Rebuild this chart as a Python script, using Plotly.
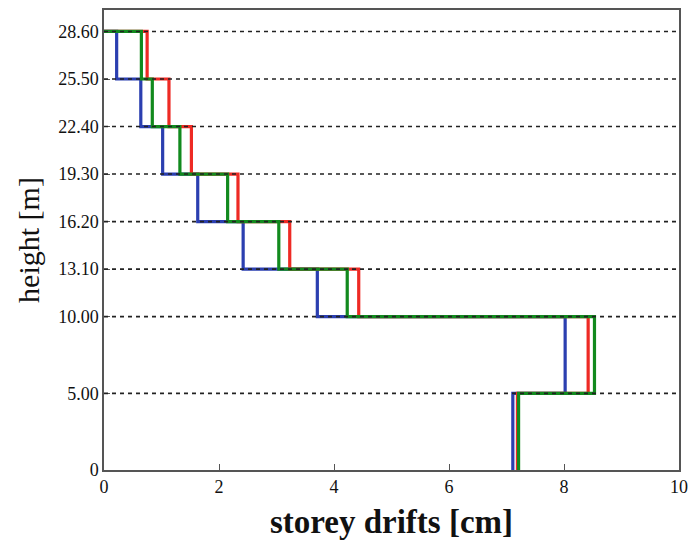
import plotly.graph_objects as go

# storey boundary heights (top to bottom) and tick labels
levels = [28.6, 25.5, 22.4, 19.3, 16.2, 13.1, 10.0, 5.0, 0.0]
ytick_vals = [0, 5.0, 10.0, 13.1, 16.2, 19.3, 22.4, 25.5, 28.6]
ytick_text = ["0", "5.00", "10.00", "13.10", "16.20", "19.30", "22.40", "25.50", "28.60"]
xtick_vals = [0, 2, 4, 6, 8, 10]

# storey drifts [cm], top storey first
drift_blue = [0.22, 0.64, 1.02, 1.63, 2.42, 3.71, 8.02, 7.11]
drift_red = [0.75, 1.13, 1.52, 2.33, 3.23, 4.43, 8.42, 7.19]
drift_green = [0.65, 0.84, 1.32, 2.15, 3.04, 4.23, 8.53, 7.21]


def step_path(drifts):
    xs, ys = [0.0], [levels[0]]
    for i, d in enumerate(drifts):
        xs += [d, d]
        ys += [levels[i], levels[i + 1]]
    return xs, ys


fig = go.Figure()
for drifts, color in [(drift_blue, "#2b3fb0"), (drift_red, "#ee2a24"), (drift_green, "#128a1e")]:
    xs, ys = step_path(drifts)
    fig.add_trace(go.Scatter(x=xs, y=ys, mode="lines",
                             line=dict(color=color, width=3.2),
                             showlegend=False, hoverinfo="skip"))

# dotted grid lines drawn above the traces
for yv in ytick_vals[1:]:
    fig.add_shape(type="line", x0=0, x1=10, y0=yv, y1=yv, xref="x", yref="y",
                  line=dict(color="#222222", width=1.6, dash="4px,4px"), layer="above")

font_serif = "Liberation Serif, Times New Roman, serif"
fig.update_layout(
    width=691, height=541,
    margin=dict(l=104, r=12, t=10, b=71),
    paper_bgcolor="white", plot_bgcolor="white",
    font=dict(family=font_serif, color="#111111"),
    xaxis=dict(range=[0, 10], tickvals=xtick_vals, ticks="inside", ticklen=6,
               tickcolor="#555555", showgrid=False, zeroline=False, automargin=False,
               showline=True, linecolor="#555555", linewidth=1.5, mirror=True,
               tickfont=dict(size=18, family=font_serif),
               title=dict(text="<b>storey drifts [cm]</b>", font=dict(size=33, family=font_serif), standoff=14)),
    yaxis=dict(range=[0, 30], tickvals=ytick_vals, ticktext=ytick_text, ticks="inside",
               ticklen=6, tickcolor="#555555", showgrid=False, zeroline=False, automargin=False,
               showline=True, linecolor="#555555", linewidth=1.5, mirror=True,
               tickfont=dict(size=18, family=font_serif),
               title=dict(text="height [m]", font=dict(size=30, family=font_serif), standoff=10)),
)

fig.write_html("out.html")
